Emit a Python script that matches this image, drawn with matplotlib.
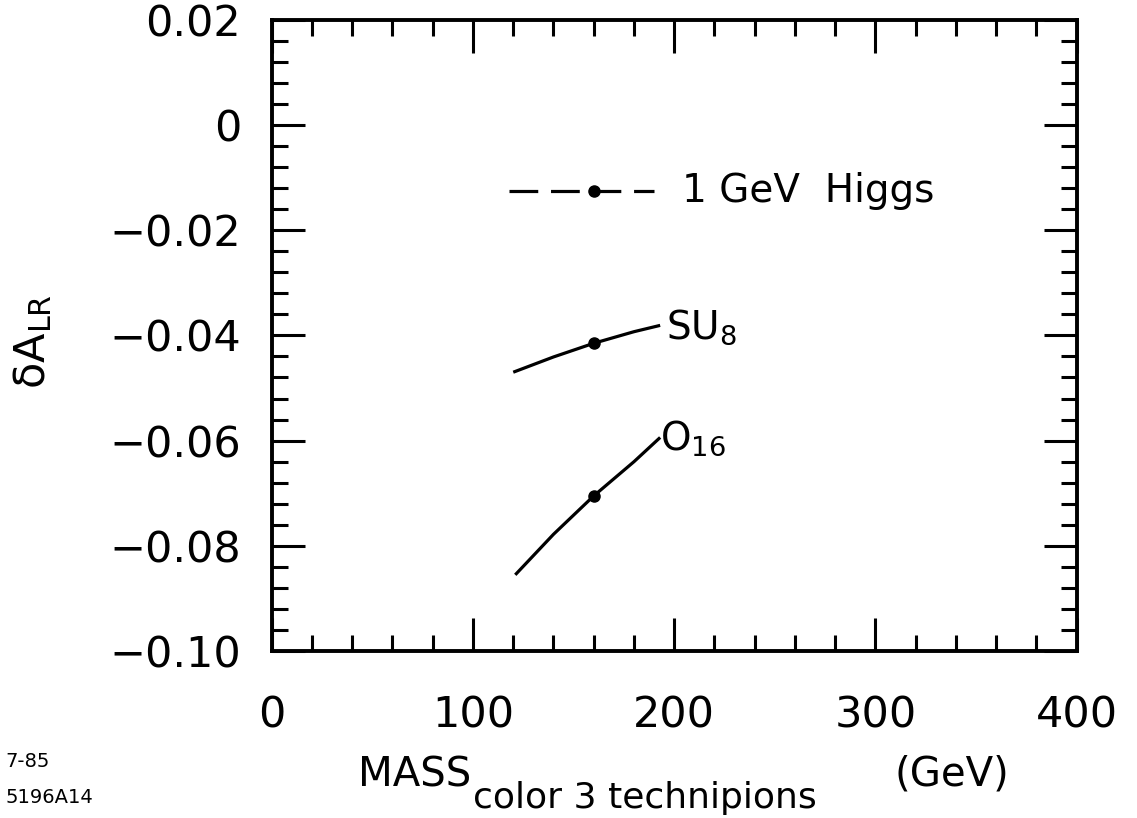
import numpy as np
import matplotlib.pyplot as plt
from matplotlib.ticker import MultipleLocator, FuncFormatter

plt.rcParams['font.family'] = ['DejaVu Sans']
plt.rcParams['mathtext.fontset'] = 'dejavusans'

# delta A_LR versus the mass of the color-3 technipions
mass_su8 = [120, 140, 160, 180, 193]
dalr_su8 = [-0.0470, -0.0441, -0.0415, -0.0393, -0.0381]

mass_o16 = [121, 140, 160, 180, 193]
dalr_o16 = [-0.0855, -0.0778, -0.0705, -0.0640, -0.0594]

mass_higgs = [118, 190]
dalr_higgs = [-0.0125, -0.0125]

# marked points at 160 GeV
dot_mass = [160, 160, 160]
dot_dalr = [-0.0125, -0.0415, -0.0705]

fig = plt.figure(figsize=(11.37, 8.18), dpi=100)
ax = fig.add_axes([0.239, 0.204, 0.708, 0.772])

ax.plot(mass_su8, dalr_su8, color='black', lw=2.3, solid_capstyle='butt')
ax.plot(mass_o16, dalr_o16, color='black', lw=2.3, solid_capstyle='butt')
ax.plot(mass_higgs, dalr_higgs, color='black', lw=2.3, dashes=(9, 4))
ax.plot(dot_mass, dot_dalr, 'o', color='black', ms=8)

ax.text(204, -0.0125, '1 GeV  Higgs', fontsize=28, va='center', ha='left')
ax.text(196, -0.0385, r'SU$_8$', fontsize=28, va='center', ha='left')
ax.text(193, -0.0595, r'O$_{16}$', fontsize=28, va='center', ha='left')

ax.set_xlim(0, 400)
ax.set_ylim(-0.10, 0.02)
ax.xaxis.set_major_locator(MultipleLocator(100))
ax.xaxis.set_minor_locator(MultipleLocator(20))
ax.yaxis.set_major_locator(MultipleLocator(0.02))
ax.yaxis.set_minor_locator(MultipleLocator(0.004))


def ylab(v, pos):
    if abs(v) < 1e-9:
        return '0'
    return '\u2212' + ('%.2f' % abs(v)) if v < 0 else '%.2f' % v


ax.yaxis.set_major_formatter(FuncFormatter(ylab))
ax.tick_params(which='both', direction='in', top=True, right=True, width=2.2, color='black')
ax.tick_params(which='major', length=24)
ax.tick_params(which='minor', length=11.5)
ax.tick_params(axis='x', which='major', labelsize=31, pad=31)
ax.tick_params(axis='y', which='major', labelsize=31, pad=22)
for s in ax.spines.values():
    s.set_linewidth(2.8)

ax.set_ylabel('\u03b4A$_{\\mathrm{LR}}$', fontsize=31)
ax.yaxis.set_label_coords(-0.27, 0.49)

fig.text(0.315, 0.038, 'MASS', fontsize=29, va='baseline', ha='left')
fig.text(0.416, 0.012, 'color 3 technipions', fontsize=26, va='baseline', ha='left')
fig.text(0.787, 0.040, '(GeV)', fontsize=29, va='baseline', ha='left')
fig.text(0.005, 0.062, '7-85', fontsize=14, va='baseline', ha='left')
fig.text(0.005, 0.018, '5196A14', fontsize=14, va='baseline', ha='left')

fig.savefig('out.png', dpi=100)
